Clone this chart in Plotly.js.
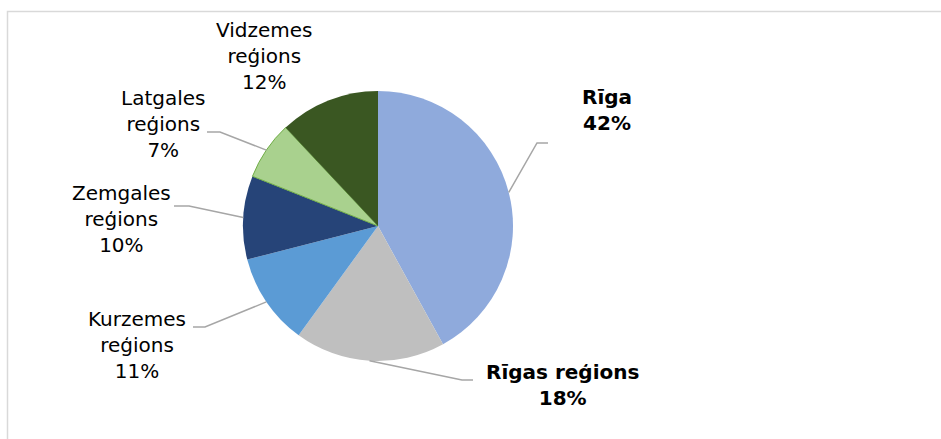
<!DOCTYPE html>
<html>
<head>
<meta charset="utf-8">
<script src="https://cdn.plot.ly/plotly-3.0.1.min.js"></script>
<style>html,body{margin:0;padding:0;background:#fff}#chart{width:941px;height:439px}</style>
</head>
<body>
<div id="chart"></div>
<script>
// Data
var categories = ["Rīga", "Rīgas reģions", "Kurzemes reģions", "Zemgales reģions", "Latgales reģions", "Vidzemes reģions"];
var labelLines = [["Rīga"], ["Rīgas reģions"], ["Kurzemes", "reģions"], ["Zemgales", "reģions"], ["Latgales", "reģions"], ["Vidzemes", "reģions"]];
var values = [42, 18, 11, 10, 7, 12];
var colors = ["#8FAADC", "#BFBFBF", "#5B9BD5", "#264478", "#A9D18E", "#3A5722"];
var boldLabel = [true, true, false, false, false, false];

// Layout / style
var W = 941, H = 439;
var dom = {x: [243 / W, 513 / W], y: [1 - 361 / H, 1 - 91 / H]};
// label centre (px) and leader line (elbow, end) in px; null = no leader
var labelPos = [
  {x: 607, y: 110, elbow: [537, 143], end: [548, 143]},
  {x: 562, y: 385, elbow: [462, 380], end: [473, 380]},
  {x: 137, y: 345, elbow: [205, 327], end: [193, 327]},
  {x: 121, y: 219, elbow: [189, 206], end: [174, 206]},
  {x: 163, y: 124, elbow: [220, 132], end: [207, 132]},
  {x: 264, y: 56, elbow: null, end: null}
];

var total = values.reduce(function (a, b) { return a + b; }, 0);
var cx = (dom.x[0] + dom.x[1]) / 2 * W;
var cy = (1 - (dom.y[0] + dom.y[1]) / 2) * H;
var r = Math.min((dom.x[1] - dom.x[0]) * W, (dom.y[1] - dom.y[0]) * H) / 2;

var annotations = [], shapes = [];
var cum = 0;
for (var i = 0; i < values.length; i++) {
  var mid = (cum + values[i] / 2) / total;
  cum += values[i];
  var th = mid * 2 * Math.PI;
  var sx = cx + r * Math.sin(th), sy = cy - r * Math.cos(th);
  var pct = Math.round(values[i] / total * 100) + "%";
  var lines = labelLines[i].concat([pct]);
  var txt = lines.join("<br>");
  if (boldLabel[i]) txt = "<b>" + txt + "</b>";
  var lp = labelPos[i];
  annotations.push({
    xref: "paper", yref: "paper", x: lp.x / W, y: 1 - lp.y / H,
    xanchor: "center", yanchor: "middle", showarrow: false, align: "center",
    text: txt, font: {family: "DejaVu Sans, Verdana, sans-serif", size: 20, color: "#000"}
  });
  if (lp.elbow) {
    shapes.push({
      type: "path", xref: "paper", yref: "paper",
      path: "M " + (sx / W) + " " + (1 - sy / H) + " L " + (lp.elbow[0] / W) + " " + (1 - lp.elbow[1] / H) + " L " + (lp.end[0] / W) + " " + (1 - lp.end[1] / H),
      line: {color: "#A6A6A6", width: 1.5}
    });
  }
}
// chart area border
shapes.push({type: "rect", xref: "paper", yref: "paper", x0: 7.5 / W, x1: 1.05, y0: -0.05, y1: 1 - 11.5 / H,
  line: {color: "#D9D9D9", width: 1.5}, layer: "below"});

var trace = {
  type: "pie", labels: categories, values: values, sort: false, direction: "clockwise", rotation: 0,
  domain: dom, textinfo: "none", hoverinfo: "label+percent",
  marker: {colors: colors, line: {color: ["#FFFFFF", "#FFFFFF", "#FFFFFF", "#FFFFFF", "#70AD47", "#FFFFFF"], width: [0, 0, 0, 0, 1, 0]}}
};

var layout = {
  width: W, height: H, margin: {l: 0, r: 0, t: 0, b: 0},
  paper_bgcolor: "#FFFFFF", showlegend: false,
  annotations: annotations, shapes: shapes
};
Plotly.newPlot("chart", [trace], layout, {displayModeBar: false, staticPlot: true});
</script>
</body>
</html>
